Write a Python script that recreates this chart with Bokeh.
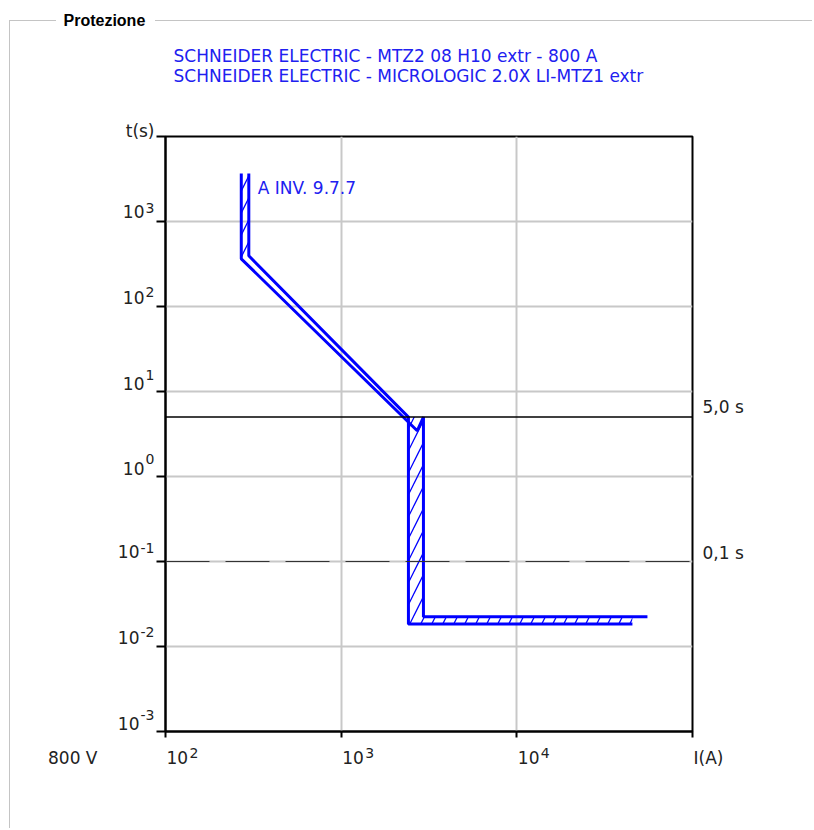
from bokeh.plotting import figure
from bokeh.models import Range1d, FixedTicker, Span, Label
from bokeh.embed import file_html
from bokeh.resources import INLINE

# ---- data ----
current_a = [298, 298, 2415, 2415, 45500]          # A
time_a = [3670, 395, 5.0, 0.0184, 0.0184]         # s
current_b = [270, 270, 2710, 2940, 2940, 55400]    # A
time_b = [3670, 364, 3.45, 5.0, 0.0224, 0.0224]   # s

threshold_times = [5.0, 0.1]
threshold_labels = ["5,0 s", "0,1 s"]

x_ticks = [1e2, 1e3, 1e4, 1e5]
x_exponents = ["2", "3", "4"]          # labels 10^2 .. 10^4
x_end_label = "I(A)"
y_ticks = [1e-3, 1e-2, 1e-1, 1e0, 1e1, 1e2, 1e3, 1e4]
y_exponents = ["-3", "-2", "-1", "0", "1", "2", "3"]   # 10^-3 .. 10^3

title_lines = ["SCHNEIDER ELECTRIC - MTZ2 08 H10 extr - 800 A",
               "SCHNEIDER ELECTRIC - MICROLOGIC 2.0X LI-MTZ1 extr"]
curve_label = "A INV. 9.7.7"
voltage_label = "800 V"
group_title = "Protezione"

FONT = "DejaVu Sans"
BASE_PX = 17
SUP_PX = 14
BLUE = "#0000ff"
TEXT_BLUE = "#2020f0"
TEXT = "#222222"
GRID = "#c8c8c8"
BOX = "#c4c4c4"
DECADE_PX = 85           # pixel height of one decade on the time axis
EM_HEIGHT = 1.164        # DejaVu Sans ascent+descent, in em

box_css = {
    "background-image": ", ".join([f"linear-gradient({BOX}, {BOX})"] * 3),
    "background-size": "1px 820px, 47px 1px, 700px 1px",
    "background-position": "9px 20px, 9px 20px, 155px 20px",
    "background-repeat": "no-repeat",
}

p = figure(width=812, height=828, x_axis_type="log", y_axis_type="log",
           x_range=Range1d(x_ticks[0], x_ticks[-1]),
           y_range=Range1d(y_ticks[0], y_ticks[-1]),
           min_border_left=165, min_border_right=120,
           min_border_top=136, min_border_bottom=97,
           output_backend="svg", toolbar_location=None, title=None,
           styles=box_css)

p.outline_line_color = "black"
p.outline_line_width = 2
p.background_fill_color = "white"
p.border_fill_color = None

for ax, ticks in ((p.xaxis[0], x_ticks), (p.yaxis[0], y_ticks)):
    ax.ticker = FixedTicker(ticks=ticks)
    ax.axis_line_color = "black"
    ax.axis_line_width = 2
    ax.major_tick_line_color = "black"
    ax.major_tick_line_width = 2
    ax.major_tick_in = 0
    ax.minor_tick_line_color = None
    ax.major_label_overrides = {v: "" for v in ticks}
    ax.major_label_standoff = 0
p.xaxis.major_tick_out = 6
p.yaxis.major_tick_out = 9

p.xgrid.ticker = FixedTicker(ticks=x_ticks)
p.ygrid.ticker = FixedTicker(ticks=y_ticks)
p.grid.grid_line_color = GRID
p.grid.grid_line_width = 2

# threshold lines
p.add_layout(Span(location=threshold_times[0], dimension="width",
                  line_color="black", line_width=1.5))
p.add_layout(Span(location=threshold_times[1], dimension="width",
                  line_color="#333333", line_width=1.2, line_dash="44 16"))

# hatched band
hx = [[current_b[0], current_a[0], current_a[1], current_b[1]],
      [current_a[2], current_b[3], current_b[4], current_a[4], current_a[4], current_a[3]]]
hy = [[time_b[0], time_a[0], time_a[1], time_b[1]],
      [time_a[2], time_b[3], time_b[4], time_b[5], time_a[4], time_a[3]]]
p.patches(hx, hy, fill_alpha=0, line_alpha=0, hatch_pattern="/",
          hatch_color=BLUE, hatch_weight=1.3, hatch_scale=22)

p.line(current_a, time_a, line_color=BLUE, line_width=3)
p.line(current_b, time_b, line_color=BLUE, line_width=3)


def lab(side, **kw):
    base = dict(text_font=FONT, text_font_size=f"{BASE_PX}px", text_color=TEXT)
    base.update(kw)
    lbl = Label(**base)
    if side is None:
        p.add_layout(lbl)
    else:
        p.add_layout(lbl, side)


# ---- time axis labels: "10" with a raised exponent ----
lh_base = DECADE_PX / (EM_HEIGHT * BASE_PX)
lh_sup = DECADE_PX / (EM_HEIGHT * SUP_PX)
pairs = list(zip(y_ticks, y_exponents))
groups = [([q for q in pairs if not q[1].startswith("-")], -21, -20),
          ([q for q in pairs if q[1].startswith("-")], -26, -25)]
for grp, base_dx, sup_dx in groups:
    grp = sorted(grp, key=lambda q: -q[0])          # top line first
    top_v = grp[0][0]
    lab("left", x=x_ticks[0], y=top_v, text="\n".join("10" for _ in grp),
        text_align="right", text_baseline="top", x_offset=base_dx,
        y_offset=4 + 0.928 * BASE_PX, text_line_height=lh_base)
    lab("left", x=x_ticks[0], y=top_v, text="\n".join(e for _, e in grp),
        text_font_size=f"{SUP_PX}px", text_align="left", text_baseline="top",
        x_offset=sup_dx, y_offset=8.3 + 0.928 * SUP_PX, text_line_height=lh_sup)

# ---- current axis labels ----
for v, e in zip(x_ticks, x_exponents):
    lab("below", x=v, y=y_ticks[0], text="10", text_align="left",
        text_baseline="alphabetic", x_offset=1, y_offset=-26)
    lab("right", x=v, y=y_ticks[0], text=e, text_font_size=f"{SUP_PX}px",
        text_align="left", text_baseline="alphabetic", x_offset=24, y_offset=-21.7)
lab("right", x=x_ticks[-1], y=y_ticks[0], text=x_end_label, text_align="left",
    text_baseline="alphabetic", x_offset=1, y_offset=-26)
lab("left", x=x_ticks[0], y=y_ticks[0], text=voltage_label, text_align="right",
    text_baseline="alphabetic", x_offset=-68, y_offset=-26)
lab("above", x=x_ticks[0], y=y_ticks[-1], text="t(s)", text_align="right",
    text_baseline="alphabetic", x_offset=-11, y_offset=6)

thr_sides = ["right", "above"]
for v, t, side, dy in zip(threshold_times, threshold_labels, thr_sides, [10, 9]):
    lab(side, x=x_ticks[-1], y=v, text=t, text_align="left",
        text_baseline="middle", x_offset=10, y_offset=dy)

# curve label (inside the frame)
lab(None, x=current_a[0], y=time_a[0], text=curve_label, text_align="left",
    text_baseline="middle", x_offset=9, y_offset=-14, text_color=TEXT_BLUE)

# titles
for i, t in enumerate(title_lines):
    lab("above", x=x_ticks[0], y=y_ticks[-1], text=t, text_align="left",
        text_baseline="middle", x_offset=8, y_offset=81 - 20 * i,
        text_color=TEXT_BLUE)

# group title
lab("above", x=x_ticks[0], y=y_ticks[-1], text=group_title, text_align="left",
    text_baseline="middle", x_offset=-102, y_offset=116, text_font_size="16px",
    text_font="Liberation Sans", text_font_style="bold", text_color="black")

open("out.html", "w").write(file_html(p, INLINE))
